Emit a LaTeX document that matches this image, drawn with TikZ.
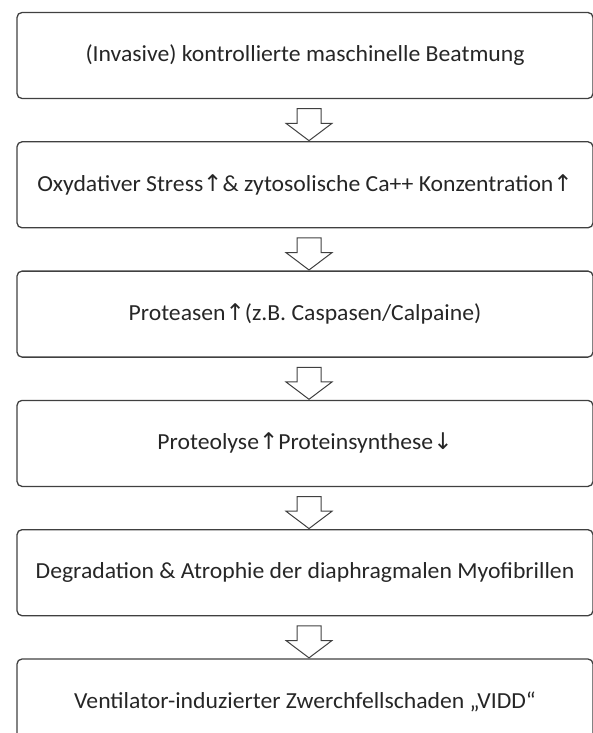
\documentclass[tikz,border=0pt]{standalone}
\usepackage{fontspec}
\setmainfont{Carlito}[FakeStretch=1.03]
\newfontfamily\pfeilfont{DejaVu Sans}
\usetikzlibrary{positioning, shapes.arrows}
\newcommand{\hoch}{{\pfeilfont ↑}}
\newcommand{\runter}{{\pfeilfont ↓}}

\begin{document}
\begin{tikzpicture}[
      x=1pt, y=1pt,
      node distance = 42pt,
      blk/.style = {draw=black!75, line width=1.3pt, rounded corners=5pt, align=center,
                    minimum height=86pt, minimum width=576pt, text=black!85,
                    font=\fontsize{23}{27}\selectfont},
      pfeil/.style = {draw=black!75, line width=1pt, single arrow, shape border rotate=270,
                      minimum height=32pt, single arrow head extend=11pt,
                      single arrow tip angle=106, inner xsep=11.5pt, inner ysep=0pt,
                      xshift=4pt}
    ]
    \useasboundingbox (0,0) rectangle (593,-733);
    \clip (0,0) rectangle (593,-733);
    % Kette von oben nach unten
    \node[blk] (beat) at (305,-55.5) {(Invasive) kontrollierte maschinelle Beatmung};
    \node[blk, below=of beat]   (stress) {Oxydativer Stress\hoch\& zytosolische Ca++ Konzentration\hoch};
    \node[blk, below=of stress] (prot)   {Proteasen\hoch(z.B. Caspasen/Calpaine)};
    \node[blk, below=of prot]   (lyse)   {Proteolyse\hoch Proteinsynthese\runter};
    \node[blk, below=of lyse]   (degr)   {Degradation \& Atrophie der diaphragmalen Myofibrillen};
    \node[blk, below=of degr]   (vidd)   {Ventilator-induzierter Zwerchfellschaden „VIDD“};
    % Blockpfeile
    \path (beat)   -- node[pfeil] (p1) {} (stress);
    \path (stress) -- node[pfeil] (p2) {} (prot);
    \path (prot)   -- node[pfeil] (p3) {} (lyse);
    \path (lyse)   -- node[pfeil] (p4) {} (degr);
    \path (degr)   -- node[pfeil] (p5) {} (vidd);
  \end{tikzpicture}
\end{document}
